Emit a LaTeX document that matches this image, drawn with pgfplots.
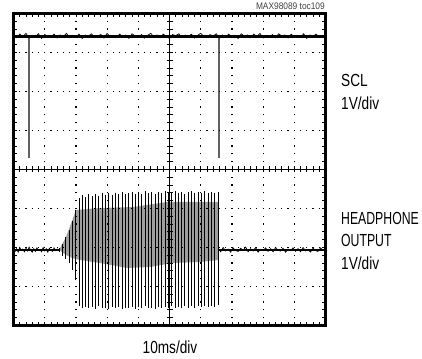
\documentclass[border=0pt]{standalone}
\usepackage{pgfplots}
\pgfplotsset{compat=1.18}
\usepackage{fontspec}
\setmainfont{Liberation Sans}[FakeStretch=0.78]
\newfontfamily\capsfont{Liberation Sans}[FakeStretch=0.70]
\newfontfamily\notefont{Liberation Sans}[FakeStretch=0.88]

\pgfplotsset{scope/.style={at={(0pt,0pt)}, anchor=south west, scale only axis,
  width=312pt, height=312pt, xmin=-5, xmax=5, ymin=-4, ymax=4}}

\begin{document}
\begin{tikzpicture}
\path[use as bounding box] (-13.5pt,-32.5pt) rectangle (408.5pt,325.5pt);

% ---------------- traces ----------------
\begin{axis}[scope, hide axis, unbounded coords=jump]
% dense (grey) middle band of the headphone burst
\addplot[fill=black!38, draw=none] coordinates {
 (-3.54,-2.064) (-3.317,-1.731) (-3.125,-1.321) (-2.997,-1.038) (-2.228,-0.987)
 (-1.170,-0.962) (-0.080,-0.833) (0.978,-0.833) (1.554,-0.833)
 (1.554,-2.321) (0.978,-2.372) (0.112,-2.397) (-0.625,-2.500) (-1.362,-2.526)
 (-2.228,-2.397) (-2.869,-2.321) (-3.125,-2.269) (-3.317,-2.192) (-3.54,-2.064)
} -- cycle;
% individual spikes of the burst
\addplot[black, line width=0.9pt] coordinates {
 (-3.537,-2.01) (-3.537,-2.12) (-3.537,nan)
 (-3.431,-1.91) (-3.431,-2.22) (-3.431,nan)
 (-3.325,-1.73) (-3.325,-2.30) (-3.325,nan)
 (-3.219,-1.55) (-3.219,-2.40) (-3.219,nan)
 (-3.113,-1.32) (-3.113,-2.58) (-3.113,nan)
 (-3.007,-1.04) (-3.007,-2.83) (-3.007,nan)
 (-2.901,-0.72) (-2.901,-3.50) (-2.901,nan)
 (-2.795,-0.66) (-2.795,-3.55) (-2.795,nan)
 (-2.689,-0.70) (-2.689,-3.52) (-2.689,nan)
 (-2.583,-0.64) (-2.583,-3.56) (-2.583,nan)
 (-2.477,-0.69) (-2.477,-3.53) (-2.477,nan)
 (-2.371,-0.62) (-2.371,-3.57) (-2.371,nan)
 (-2.264,-0.67) (-2.264,-3.51) (-2.264,nan)
 (-2.158,-0.61) (-2.158,-3.55) (-2.158,nan)
 (-2.052,-0.65) (-2.052,-3.54) (-2.052,nan)
 (-1.946,-0.60) (-1.946,-3.57) (-1.946,nan)
 (-1.840,-0.66) (-1.840,-3.52) (-1.840,nan)
 (-1.734,-0.59) (-1.734,-3.56) (-1.734,nan)
 (-1.628,-0.63) (-1.628,-3.53) (-1.628,nan)
 (-1.522,-0.58) (-1.522,-3.58) (-1.522,nan)
 (-1.416,-0.64) (-1.416,-3.54) (-1.416,nan)
 (-1.310,-0.60) (-1.310,-3.56) (-1.310,nan)
 (-1.203,-0.57) (-1.203,-3.52) (-1.203,nan)
 (-1.097,-0.62) (-1.097,-3.57) (-1.097,nan)
 (-0.991,-0.59) (-0.991,-3.53) (-0.991,nan)
 (-0.885,-0.63) (-0.885,-3.55) (-0.885,nan)
 (-0.779,-0.56) (-0.779,-3.51) (-0.779,nan)
 (-0.673,-0.61) (-0.673,-3.56) (-0.673,nan)
 (-0.567,-0.58) (-0.567,-3.54) (-0.567,nan)
 (-0.461,-0.62) (-0.461,-3.57) (-0.461,nan)
 (-0.355,-0.57) (-0.355,-3.52) (-0.355,nan)
 (-0.249,-0.60) (-0.249,-3.55) (-0.249,nan)
 (-0.142,-0.56) (-0.142,-3.53) (-0.142,nan)
 (-0.036,-0.61) (-0.036,-3.56) (-0.036,nan)
 (0.070,-0.58) (0.070,-3.51) (0.070,nan)
 (0.176,-0.55) (0.176,-3.55) (0.176,nan)
 (0.282,-0.60) (0.282,-3.52) (0.282,nan)
 (0.388,-0.57) (0.388,-3.54) (0.388,nan)
 (0.494,-0.62) (0.494,-3.50) (0.494,nan)
 (0.600,-0.58) (0.600,-3.54) (0.600,nan)
 (0.706,-0.56) (0.706,-3.51) (0.706,nan)
 (0.812,-0.61) (0.812,-3.55) (0.812,nan)
 (0.919,-0.57) (0.919,-3.50) (0.919,nan)
 (1.025,-0.60) (1.025,-3.53) (1.025,nan)
 (1.131,-0.56) (1.131,-3.49) (1.131,nan)
 (1.237,-0.59) (1.237,-3.53) (1.237,nan)
 (1.343,-0.57) (1.343,-3.50) (1.343,nan)
 (1.449,-0.60) (1.449,-3.52) (1.449,nan)
 (1.555,-0.58) (1.555,-3.48)
};
% headphone baseline: thick core + noise
\addplot[black, line width=1.8pt] coordinates {(-5,-2.06) (-3.54,-2.06) (-3.54,nan) (1.56,-2.06) (5,-2.06)};
\addplot[black, line width=0.7pt] coordinates {
 (-5.00,-2.01) (-4.95,-2.10) (-4.90,-2.03) (-4.85,-2.12) (-4.80,-2.00) (-4.75,-2.08)
 (-4.70,-2.04) (-4.65,-2.11) (-4.60,-2.02) (-4.55,-2.09) (-4.50,-1.99) (-4.45,-2.07)
 (-4.40,-2.12) (-4.35,-2.03) (-4.30,-2.10) (-4.25,-2.01) (-4.20,-2.08) (-4.15,-2.05)
 (-4.10,-2.11) (-4.05,-2.00) (-4.00,-2.09) (-3.95,-2.03) (-3.90,-2.12) (-3.85,-2.02)
 (-3.80,-2.07) (-3.75,-2.10) (-3.70,-2.01) (-3.65,-2.08) (-3.60,-2.04) (-3.55,-2.06)
 (-3.55,nan)
 (1.56,-2.02) (1.64,-2.11) (1.72,-2.00) (1.80,-2.09) (1.88,-2.04) (1.96,-2.12)
 (2.04,-2.01) (2.12,-2.08) (2.20,-2.10) (2.28,-2.02) (2.36,-2.07) (2.44,-1.99)
 (2.52,-2.11) (2.60,-2.03) (2.68,-2.09) (2.76,-2.00) (2.84,-2.12) (2.92,-2.05)
 (3.00,-2.08) (3.08,-2.01) (3.16,-2.10) (3.24,-2.03) (3.32,-2.11) (3.40,-2.00)
 (3.48,-2.07) (3.56,-2.09) (3.64,-2.02) (3.72,-2.12) (3.80,-2.04) (3.88,-2.08)
 (3.96,-2.01) (4.04,-2.10) (4.12,-2.03) (4.20,-2.11) (4.28,-2.00) (4.36,-2.09)
 (4.44,-2.05) (4.52,-2.12) (4.60,-2.02) (4.68,-2.08) (4.76,-2.10) (4.84,-2.01)
 (4.92,-2.07) (5.00,-2.04)
};
% SCL pulses
\addplot[black!62, line width=1.3pt] coordinates {
 (-4.50,3.40) (-4.50,0.295) (-4.50,nan) (1.587,3.40) (1.587,0.295)
};
% SCL trace: thick core + noise
\addplot[black, line width=2.6pt] coordinates {(-5,3.41) (5,3.41)};
\addplot[black, line width=0.7pt] coordinates {
 (-5.0,3.45) (-4.9,3.38) (-4.8,3.47) (-4.7,3.41) (-4.6,3.49) (-4.5,3.37) (-4.4,3.44) (-4.3,3.40) (-4.2,3.48) (-4.1,3.36)
 (-4.0,3.46) (-3.9,3.42) (-3.8,3.39) (-3.7,3.47) (-3.6,3.37) (-3.5,3.45) (-3.4,3.41) (-3.3,3.49) (-3.2,3.38) (-3.1,3.44)
 (-3.0,3.40) (-2.9,3.47) (-2.8,3.36) (-2.7,3.45) (-2.6,3.42) (-2.5,3.48) (-2.4,3.38) (-2.3,3.43) (-2.2,3.46) (-2.1,3.37)
 (-2.0,3.49) (-1.9,3.40) (-1.8,3.44) (-1.7,3.38) (-1.6,3.47) (-1.5,3.41) (-1.4,3.45) (-1.3,3.36) (-1.2,3.48) (-1.1,3.42)
 (-1.0,3.39) (-0.9,3.46) (-0.8,3.37) (-0.7,3.44) (-0.6,3.49) (-0.5,3.40) (-0.4,3.45) (-0.3,3.38) (-0.2,3.47) (-0.1,3.41)
 (0.0,3.36) (0.1,3.46) (0.2,3.43) (0.3,3.48) (0.4,3.38) (0.5,3.45) (0.6,3.40) (0.7,3.47) (0.8,3.37) (0.9,3.44)
 (1.0,3.49) (1.1,3.41) (1.2,3.38) (1.3,3.46) (1.4,3.42) (1.5,3.48) (1.6,3.37) (1.7,3.45) (1.8,3.40) (1.9,3.47)
 (2.0,3.39) (2.1,3.44) (2.2,3.36) (2.3,3.48) (2.4,3.42) (2.5,3.45) (2.6,3.38) (2.7,3.47) (2.8,3.41) (2.9,3.49)
 (3.0,3.37) (3.1,3.44) (3.2,3.40) (3.3,3.46) (3.4,3.38) (3.5,3.48) (3.6,3.42) (3.7,3.45) (3.8,3.37) (3.9,3.47)
 (4.0,3.40) (4.1,3.44) (4.2,3.39) (4.3,3.48) (4.4,3.36) (4.5,3.45) (4.6,3.42) (4.7,3.47) (4.8,3.38) (4.9,3.44) (5.0,3.41)
};
\end{axis}

% ---------------- graticule: dotted grid, frame and edge ticks ----------------
\begin{axis}[scope,
  xtick={-5,...,5}, ytick={-4,...,4}, minor x tick num=4, minor y tick num=4,
  xticklabels={}, yticklabels={},
  tick align=inside, major tick length=3.5pt, minor tick length=3.5pt,
  tick style={black, line width=0.8pt},
  xmajorgrids, ymajorgrids,
  x grid style={black, line width=1.2pt, dash pattern=on 1.2pt off 6.6pt, dash phase=0.6pt},
  y grid style={black, line width=1.2pt, dash pattern=on 1.2pt off 5.04pt, dash phase=0.6pt},
  axis line style={black, line width=2.4pt}]
\end{axis}

% ---------------- centre cross with ticks ----------------
\begin{axis}[scope, axis lines=middle, axis line style={-, black, line width=0.6pt},
  xtick={-5,...,5}, ytick={-4,...,4}, minor x tick num=4, minor y tick num=4,
  xticklabels={}, yticklabels={},
  tick align=center, major tick length=6pt, minor tick length=6pt,
  tick style={black, line width=0.8pt}]
\end{axis}

% ---------------- text ----------------
\node[anchor=base east, inner sep=0pt, font=\notefont\fontsize{9.5}{11}\selectfont, text=black!75]
  at (311.5pt,315.5pt) {MAX98089 toc109};
\node[anchor=base west, inner sep=0pt, font=\fontsize{17.5}{21}\selectfont] at (327.5pt,238.5pt) {SCL};
\node[anchor=base west, inner sep=0pt, font=\fontsize{17.5}{21}\selectfont] at (327.5pt,215.5pt) {1V/div};
\node[anchor=base west, inner sep=0pt, font=\capsfont\fontsize{17.5}{21}\selectfont] at (327.5pt,101pt) {HEADPHONE};
\node[anchor=base west, inner sep=0pt, font=\capsfont\fontsize{17.5}{21}\selectfont] at (327.5pt,78.5pt) {OUTPUT};
\node[anchor=base west, inner sep=0pt, font=\fontsize{17.5}{21}\selectfont] at (327.5pt,55.5pt) {1V/div};
\node[anchor=base, inner sep=0pt, font=\fontsize{17.5}{21}\selectfont] at (156.5pt,-27.5pt) {10ms/div};
\end{tikzpicture}
\end{document}
